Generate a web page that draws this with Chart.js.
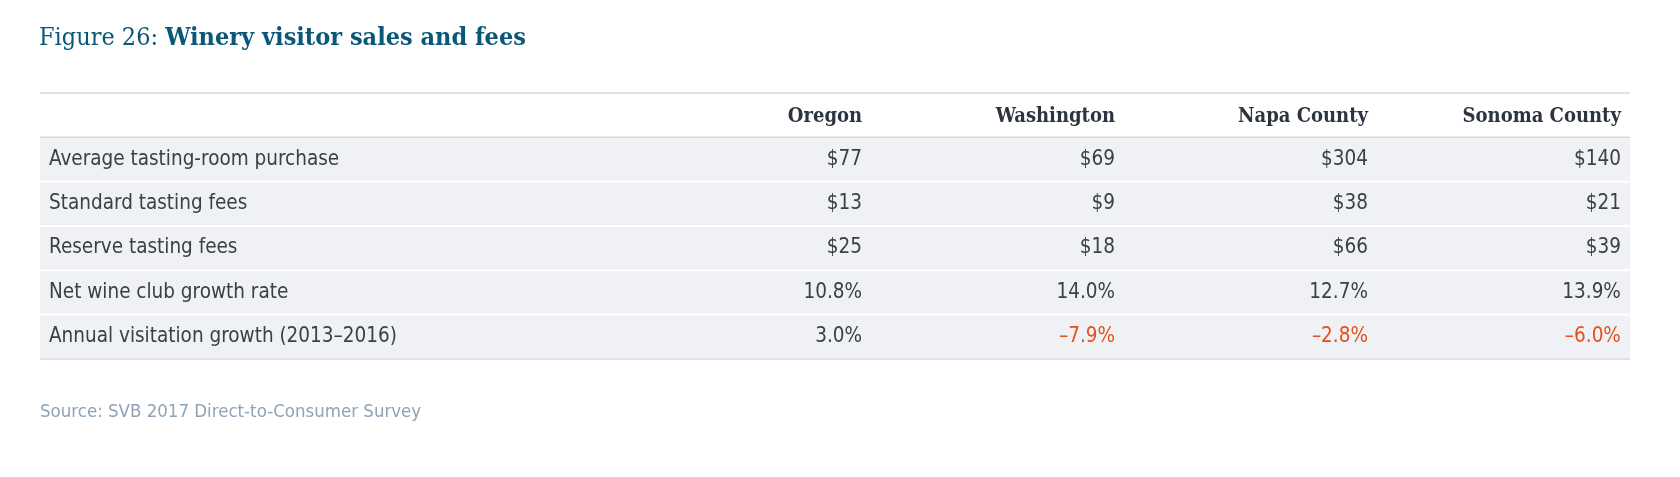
<!DOCTYPE html>
<html>
<head>
<meta charset="utf-8">
<script src="https://cdn.jsdelivr.net/npm/chart.js@4"></script>
<style>
  html, body { margin: 0; padding: 0; background: #fff; }
  #wrap { position: relative; width: 1680px; height: 477px; }
  #title { position: absolute; left: 39px; top: 22px; font-family: "DejaVu Serif Condensed", "DejaVu Serif", serif; font-size: 25px; color: #0a5878; }
  #title b { font-weight: bold; }
  #source { position: absolute; left: 40px; top: 400px; font-family: "DejaVu Sans Condensed", sans-serif; font-size: 18.5px; color: #8ea3b8; }
  canvas { position: absolute; left: 0; top: 0; }
</style>
</head>
<body>
<div id="wrap">
  <canvas id="table-chart" width="1680" height="477"></canvas>
  <div id="title">Figure 26: <b>Winery visitor sales and fees</b></div>
  <div id="source">Source: SVB 2017 Direct-to-Consumer Survey</div>
</div>
<script>
// table data
const regions = ['Oregon', 'Washington', 'Napa County', 'Sonoma County'];
const metrics = [
  'Average tasting-room purchase',
  'Standard tasting fees',
  'Reserve tasting fees',
  'Net wine club growth rate',
  'Annual visitation growth (2013\u20132016)'
];
const oregon = ['$77', '$13', '$25', '10.8%', '3.0%'];
const washington = ['$69', '$9', '$18', '14.0%', '\u20137.9%'];
const napa = ['$304', '$38', '$66', '12.7%', '\u20132.8%'];
const sonoma = ['$140', '$21', '$39', '13.9%', '\u20136.0%'];
const columns = [oregon, washington, napa, sonoma];

const rowLabels = ['header'].concat(metrics);

// draws the table cells from the scales
const tablePlugin = {
    id: 'tableCells',
    beforeDatasetsDraw(chart) {
        const ctx = chart.ctx;
        const x = chart.scales.x;
        const y = chart.scales.y;
        const area = chart.chartArea;
        const rowH = y.getPixelForValue(1) - y.getPixelForValue(0);
        ctx.save();

        // row bands
        rowLabels.forEach(function(r, i) {
            if (i === 0) return;
            const cy = y.getPixelForValue(i);
            ctx.fillStyle = '#f0f1f5';
            ctx.fillRect(area.left, cy - rowH / 2 + 1, area.right - area.left, rowH - 2);
        });

        // rules
        ctx.strokeStyle = '#d3d8e0';
        ctx.lineWidth = 1.5;
        [area.top, y.getPixelForValue(0) + rowH / 2, area.bottom].forEach(function(ly) {
            ctx.beginPath();
            ctx.moveTo(area.left, ly);
            ctx.lineTo(area.right, ly);
            ctx.stroke();
        });

        // header
        ctx.textBaseline = 'middle';
        ctx.textAlign = 'right';
        ctx.fillStyle = '#2c3440';
        ctx.font = 'bold 20px "DejaVu Serif Condensed", "DejaVu Serif", serif';
        regions.forEach(function(name, c) {
            ctx.fillText(name, x.getPixelForValue(c + 1), y.getPixelForValue(0) + 2);
        });

        // body
        ctx.font = '20.5px "Liberation Sans Narrow", "DejaVu Sans Condensed", sans-serif';
        metrics.forEach(function(m, r) {
            const cy = y.getPixelForValue(r + 1);
            ctx.textAlign = 'left';
            ctx.fillStyle = '#3b4048';
            ctx.fillText(m, area.left + 9, cy);
            ctx.textAlign = 'right';
            columns.forEach(function(col, c) {
                const v = col[r];
                ctx.fillStyle = v.charAt(0) === '\u2013' ? '#e2521d' : '#3b4048';
                ctx.fillText(v, x.getPixelForValue(c + 1), cy);
            });
        });
        ctx.restore();
    }
};

new Chart(document.getElementById('table-chart').getContext('2d'), {
    type: 'bar',
    data: {
        labels: rowLabels,
        datasets: [{ data: [], backgroundColor: 'rgba(0,0,0,0)' }]
    },
    options: {
        responsive: false,
        animation: false,
        layout: { padding: { left: 40, right: 50, top: 93, bottom: 118 } },
        plugins: { legend: { display: false }, tooltip: { enabled: false } },
        scales: {
            x: { type: 'linear', min: -2.25, max: 4.036, offset: false, display: false },
            y: { type: 'category', labels: rowLabels, offset: true, display: false }
        }
    },
    plugins: [tablePlugin]
});
</script>
</body>
</html>
